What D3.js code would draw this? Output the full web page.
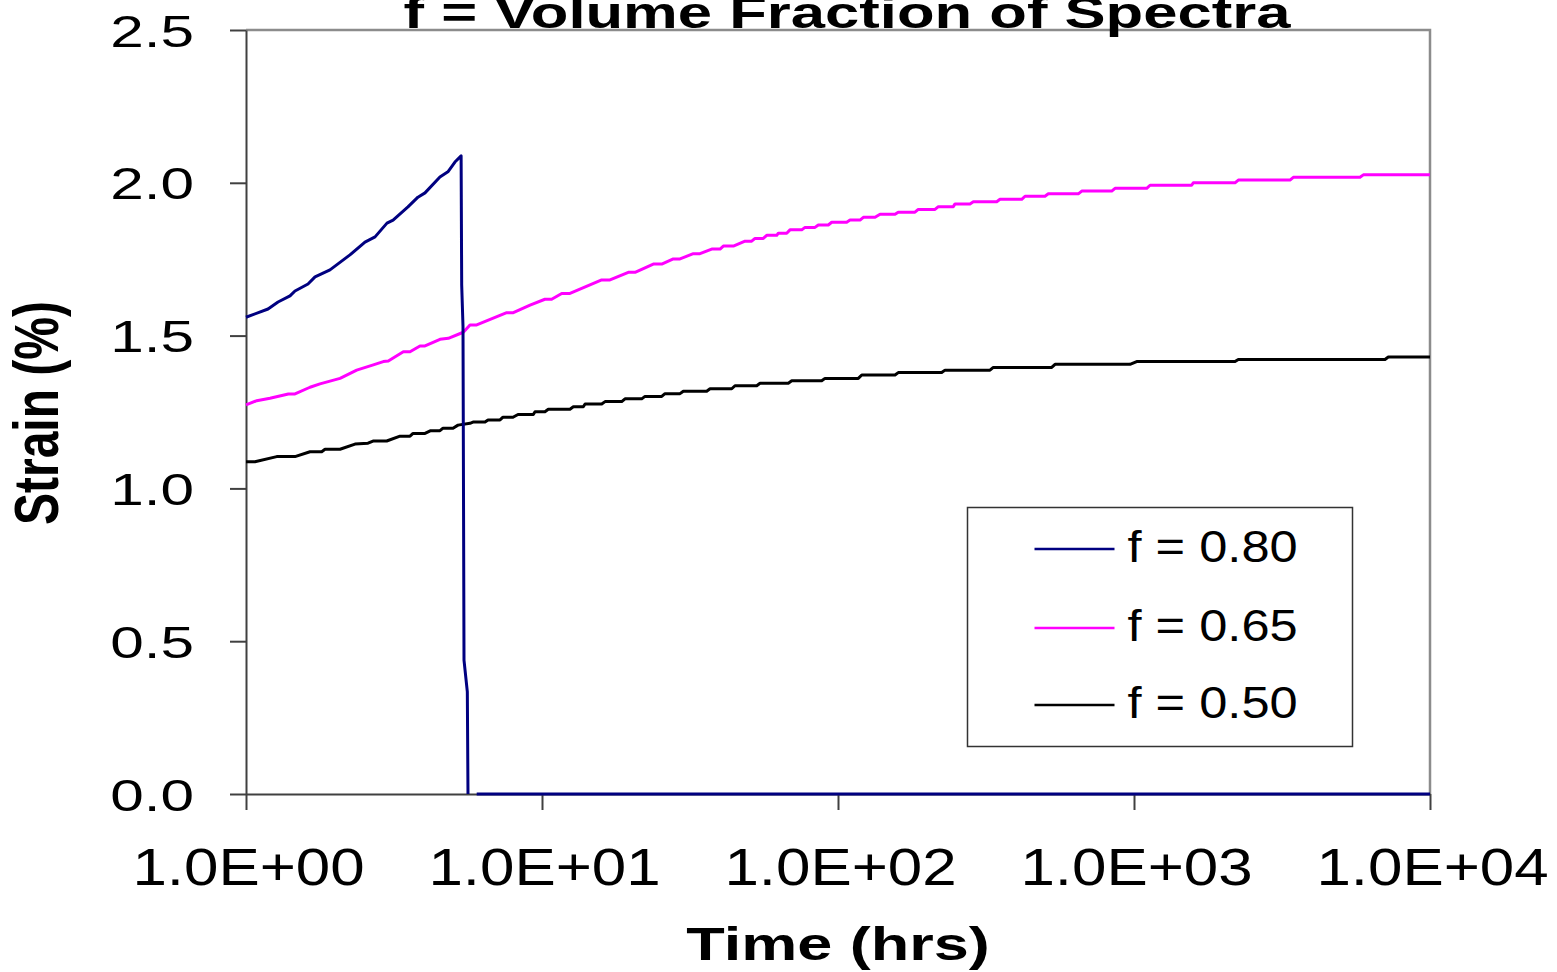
<!DOCTYPE html>
<html>
<head>
<meta charset="utf-8">
<script src="https://cdn.jsdelivr.net/npm/d3@7"></script>
<style>
  body { margin: 0; background: #fff; }
  text { font-family: "Liberation Sans", Arial, sans-serif; }
</style>
</head>
<body>
<div id="chart"></div>
<script>
// values
const seriesNames = ["f = 0.80", "f = 0.65", "f = 0.50"];
const xTickValues = [1, 10, 100, 1000, 10000];
const xTickLabels = ["1.0E+00", "1.0E+01", "1.0E+02", "1.0E+03", "1.0E+04"];
const yTickValues = [0, 0.5, 1, 1.5, 2, 2.5];
const yTickLabels = ["0.0", "0.5", "1.0", "1.5", "2.0", "2.5"];

// f = 0.80 (fails near 5.6 hrs, then sits at zero; null = gap in the line)
const timeF80 = [1, 1.187, 1.283, 1.408, 1.464, 1.62, 1.711, 1.922, 2.245, 2.523,
  2.729, 2.994, 3.14, 3.525, 3.81, 4.025, 4.52, 4.81, 5.08, 5.33,
  5.354, 5.409, 5.451, 5.594, 5.623, 5.8, 6.017, 10000];
const strainF80 = [1.56, 1.587, 1.61, 1.63, 1.646, 1.669, 1.692, 1.715, 1.764, 1.806,
  1.823, 1.868, 1.878, 1.921, 1.953, 1.967, 2.019, 2.036, 2.068, 2.088,
  1.666, 1.53, 0.438, 0.334, 0, null, 0, 0];

// f = 0.65
const timeF65 = [1, 1.087, 1.205, 1.39, 1.464, 1.645, 1.778, 2.078, 2.366, 2.692,
  2.91, 3.025, 3.4, 3.582, 3.871, 4.025, 4.523, 4.825, 5.423, 5.711,
  6.017, 7.6, 8.0, 9.111, 10.23, 10.78, 11.66, 12.43, 15.91, 16.97,
  19.57, 20.62, 23.77, 25.38, 27.77, 29.26, 32.45, 34.18, 37.44, 39.95,
  40.98, 44.3, 48.52, 51.1, 52.44, 55.93, 57.43, 62.09, 62.86, 67.1,
  68.83, 75.42, 77.36, 83.62, 85.79, 92.74, 95.21, 107, 109.8, 118.7,
  121.8, 133.4, 138.7, 155.8, 159.8, 182, 186.7, 212.7, 218.3, 245.2,
  248.5, 279.2, 286.5, 343.7, 352.6, 417.5, 428.4, 500.3, 513.3, 648.4,
  665.9, 840.9, 862.7, 1104, 1133, 1566, 1586, 2194, 2251, 3365,
  3453, 5800, 5953, 10000];
const strainF65 = [1.273, 1.287, 1.295, 1.309, 1.309, 1.331, 1.342, 1.36, 1.387, 1.404,
  1.415, 1.417, 1.447, 1.447, 1.466, 1.466, 1.488, 1.491, 1.511, 1.535,
  1.535, 1.575, 1.575, 1.6, 1.619, 1.619, 1.638, 1.638, 1.682, 1.682,
  1.707, 1.707, 1.734, 1.734, 1.751, 1.751, 1.768, 1.768, 1.783, 1.783,
  1.793, 1.793, 1.809, 1.809, 1.818, 1.818, 1.828, 1.828, 1.835, 1.835,
  1.846, 1.846, 1.854, 1.854, 1.862, 1.862, 1.871, 1.871, 1.878, 1.878,
  1.887, 1.887, 1.897, 1.897, 1.904, 1.904, 1.913, 1.913, 1.922, 1.922,
  1.931, 1.931, 1.938, 1.938, 1.946, 1.946, 1.956, 1.956, 1.964, 1.964,
  1.973, 1.973, 1.982, 1.982, 1.992, 1.992, 2.0, 2.0, 2.009, 2.009,
  2.018, 2.018, 2.026, 2.026];

// f = 0.50
const timeF50 = [1, 1.072, 1.27, 1.464, 1.645, 1.802, 1.849, 2.078, 2.335, 2.584,
  2.686, 2.988, 3.314, 3.582, 3.667, 4.025, 4.207, 4.523, 4.63, 5.005,
  5.203, 5.711, 5.847, 6.42, 6.571, 7.214, 7.384, 7.98, 8.296, 9.346,
  9.471, 10.23, 10.5, 12.43, 12.76, 13.79, 13.98, 15.91, 16.33, 18.59,
  19.07, 21.72, 22.28, 25.38, 26.03, 29.26, 30.02, 36.01, 36.95, 43.75,
  44.87, 53.14, 54.52, 67.94, 69.78, 88.07, 90.38, 117.1, 120.3, 155.8,
  159.8, 224, 229.9, 326.2, 334.7, 527.2, 541, 969.3, 1021, 2194,
  2251, 7047, 7229, 10000];
const strainF50 = [1.087, 1.087, 1.104, 1.104, 1.12, 1.12, 1.128, 1.128, 1.145, 1.148,
  1.155, 1.155, 1.171, 1.171, 1.18, 1.18, 1.189, 1.189, 1.197, 1.197,
  1.207, 1.213, 1.217, 1.217, 1.224, 1.224, 1.233, 1.233, 1.242, 1.242,
  1.251, 1.251, 1.259, 1.259, 1.267, 1.267, 1.276, 1.276, 1.284, 1.284,
  1.293, 1.293, 1.301, 1.301, 1.31, 1.31, 1.318, 1.318, 1.326, 1.326,
  1.336, 1.336, 1.344, 1.344, 1.352, 1.352, 1.36, 1.36, 1.371, 1.371,
  1.379, 1.379, 1.387, 1.387, 1.396, 1.396, 1.406, 1.406, 1.415, 1.415,
  1.422, 1.422, 1.43, 1.43];

const series = [
  { name: seriesNames[0], color: "#000080", t: timeF80, v: strainF80 },
  { name: seriesNames[1], color: "#ff00ff", t: timeF65, v: strainF65 },
  { name: seriesNames[2], color: "#000000", t: timeF50, v: strainF50 }
];
series.forEach(s => { s.points = s.t.map((t, i) => ({ t: t, v: s.v[i] })); });

// screen
const totalW = 1557, totalH = 972;
const margin = { top: 30, right: 127, bottom: 178, left: 246 };
const width = totalW - margin.left - margin.right,
      height = totalH - margin.top - margin.bottom;

const svg = d3.select("#chart").append("svg")
    .attr("width", totalW)
    .attr("height", totalH);

svg.append("rect").attr("width", totalW).attr("height", totalH).attr("fill", "#fff");

const g = svg.append("g").attr("transform", `translate(${margin.left},${margin.top})`);

const xScale = d3.scaleLog().domain([1, 10000]).range([0, width]);
const yScale = d3.scaleLinear().domain([0, 2.5]).range([height, 0]);

// plot frame (top and right)
g.append("path")
    .attr("d", `M0,0H${width}V${height}`)
    .attr("fill", "none")
    .attr("stroke", "#8c8c8c")
    .attr("stroke-width", 2.5);

// y axis
const yAxis = d3.axisLeft(yScale)
    .tickValues(yTickValues)
    .tickFormat((d, i) => yTickLabels[i])
    .tickSize(16)
    .tickSizeOuter(0);
const yg = g.append("g").call(yAxis).attr("font-family", null).attr("font-size", null);
yg.select(".domain").attr("stroke", "#404040").attr("stroke-width", 2);
yg.selectAll(".tick line").attr("stroke", "#404040").attr("stroke-width", 2);
yg.selectAll(".tick text")
    .attr("x", null).attr("dy", null)
    .attr("transform", "translate(-52,16) scale(1.37,1)")
    .attr("font-size", 44)
    .attr("fill", "#000");

// x axis
const xAxis = d3.axisBottom(xScale)
    .tickValues(xTickValues)
    .tickFormat((d, i) => xTickLabels[i])
    .tickSize(16)
    .tickSizeOuter(0);
const xg = g.append("g").attr("transform", `translate(0,${height})`).call(xAxis)
    .attr("font-family", null).attr("font-size", null);
xg.select(".domain").attr("stroke", "#404040").attr("stroke-width", 2);
xg.selectAll(".tick line").attr("stroke", "#404040").attr("stroke-width", 2);
xg.selectAll(".tick text")
    .attr("y", null).attr("dy", null)
    .attr("transform", "translate(2,91) scale(1.19,1)")
    .attr("font-size", 52)
    .attr("fill", "#000");

// series lines, blue last so it sits on top
const line = d3.line()
    .defined(d => d.v != null)
    .x(d => xScale(d.t))
    .y(d => yScale(d.v));

series.slice().reverse().forEach(s => {
    g.append("path")
        .datum(s.points)
        .attr("fill", "none")
        .attr("stroke", s.color)
        .attr("stroke-width", 3)
        .attr("stroke-linejoin", "round")
        .attr("d", line);
});

// titles
svg.append("text")
    .attr("transform", "translate(847,28) scale(1.4,1)")
    .attr("text-anchor", "middle")
    .attr("font-weight", "bold")
    .attr("font-size", 44)
    .text("f = Volume Fraction of Spectra");

svg.append("text")
    .attr("transform", "translate(838,960) scale(1.37,1)")
    .attr("text-anchor", "middle")
    .attr("font-weight", "bold")
    .attr("font-size", 46)
    .text("Time (hrs)");

svg.append("text")
    .attr("transform", "translate(58,413) rotate(-90) scale(1,1.3)")
    .attr("text-anchor", "middle")
    .attr("font-weight", "bold")
    .attr("font-size", 48)
    .text("Strain (%)");

// legend
const legend = svg.append("g").attr("transform", "translate(967.5,507.5)");
legend.append("rect")
    .attr("width", 385).attr("height", 239)
    .attr("fill", "#fff")
    .attr("stroke", "#333").attr("stroke-width", 1.5);

const rowY = [41.5, 120.5, 197.5];
series.forEach((s, i) => {
    legend.append("line")
        .attr("x1", 67).attr("x2", 147)
        .attr("y1", rowY[i]).attr("y2", rowY[i])
        .attr("stroke", s.color).attr("stroke-width", 2.5);
    legend.append("text")
        .attr("transform", `translate(160,${rowY[i] + 13}) scale(1.15,1)`)
        .attr("font-size", 44)
        .text(s.name);
});
</script>
</body>
</html>
